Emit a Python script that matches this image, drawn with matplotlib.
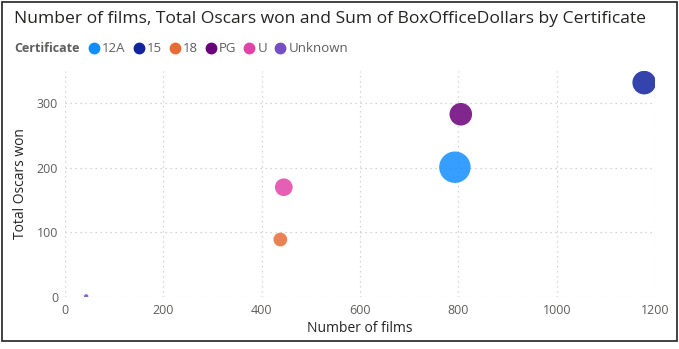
import matplotlib.pyplot as plt
from matplotlib.lines import Line2D
from matplotlib.patches import Rectangle

certificates = ['12A', '15', '18', 'PG', 'U', 'Unknown']
num_films = [793, 1178, 438, 805, 445, 43]
oscars_won = [201, 332, 89, 283, 170, 1]
box_office = [25.6, 14.4, 4.9, 13.2, 8.1, 0.5]  # billions, only used for bubble size
colors = ['#118DFF', '#12239E', '#E66C37', '#6B007B', '#E044A7', '#744EC2']

plt.rcParams['font.family'] = ['Open Sans', 'DejaVu Sans']

fig = plt.figure(figsize=(6.79, 3.49), dpi=100)
fig.patches.append(Rectangle((2 / 679, 8 / 349), 675 / 679, 339 / 349, transform=fig.transFigure,
                             fill=False, edgecolor='#222222', linewidth=1.2))

ax = fig.add_axes([65 / 679, 52 / 349, 590 / 679, 226 / 349])

for i in range(len(certificates)):
    ax.scatter(num_films[i], oscars_won[i], s=box_office[i] * 20, color=colors[i],
               alpha=0.85, edgecolors='none', zorder=3)

ax.set_xlim(0, 1200)
ax.set_ylim(0, 350)
ax.set_xticks([0, 200, 400, 600, 800, 1000, 1200])
ax.set_yticks([0, 100, 200, 300])
ax.grid(True, linestyle=(0, (1, 3)), color='#C8C8C8', linewidth=0.9)
for s in ax.spines.values():
    s.set_visible(False)
ax.tick_params(length=0, labelsize=9, labelcolor='#605E5C', pad=5)
ax.set_xlabel('Number of films', fontsize=10, color='#252423', labelpad=3)
ax.set_ylabel('Total Oscars won', fontsize=10, color='#252423', labelpad=6)

fig.text(14 / 679, 1 - 19 / 349, 'Number of films, Total Oscars won and Sum of BoxOfficeDollars by Certificate',
         fontsize=12.6, color='#252423', va='center', ha='left')
fig.text(14 / 679, 1 - 49 / 349, 'Certificate', fontsize=9, fontweight='bold',
         color='#605E5C', va='center', ha='left')

handles = [Line2D([], [], marker='o', linestyle='none', markersize=7.5, color=c) for c in colors]
fig.legend(handles, certificates, ncol=6, loc='center left', bbox_to_anchor=(86 / 679, 1 - 49 / 349),
           frameon=False, fontsize=9.5, handletextpad=0.0, columnspacing=0.4,
           handlelength=1.2, labelcolor='#605E5C', borderaxespad=0, borderpad=0)

plt.savefig('out.png', dpi=100)
